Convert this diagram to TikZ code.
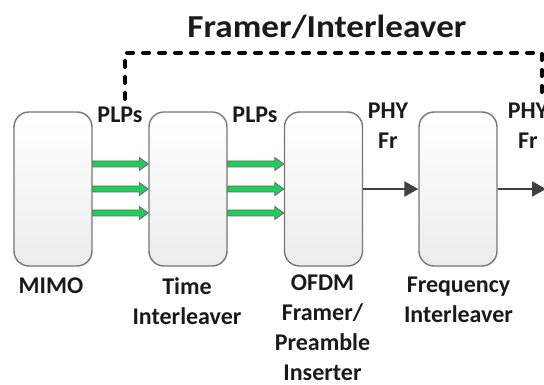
\documentclass[tikz,border=0pt]{standalone}
\usepackage{fontspec}
\setmainfont{Carlito}
\newfontfamily\titlefont{Carlito}[FakeStretch=1.1]
\usetikzlibrary{arrows.meta,calc}
\definecolor{boxline}{RGB}{118,118,118}
\definecolor{boxbot}{RGB}{236,236,236}
\definecolor{gfill}{RGB}{30,205,90}
\definecolor{gline}{RGB}{105,105,105}
\definecolor{darrow}{RGB}{64,64,64}
\definecolor{txt}{RGB}{26,26,26}
\tikzset{
  blockbox/.style={draw=boxline, line width=1.4pt, rounded corners=15pt,
    top color=white, bottom color=boxbot, minimum width=78pt, minimum height=154pt, inner sep=0pt},
  lab/.style={font=\fontsize{24}{30}\selectfont\bfseries, text=txt, align=center, inner sep=0pt},
  ttl/.style={font=\titlefont\fontsize{32}{38}\selectfont\bfseries, text=txt, inner sep=0pt},
  garrow/.style={fill=gfill, draw=gline, line width=0.8pt, line join=miter},
  phyarrow/.style={draw=darrow, line width=2.4pt, -{Triangle[length=14pt,width=15pt]}},
  dashline/.style={line width=4pt, line cap=round, dash pattern=on 6pt off 10pt}
}
\newcommand\greenarrow[2]{%
  \draw[garrow] let \p1=(#1), \p2=(#2) in
    (\x1,\y1-3pt) -- (\x2-9pt,\y1-3pt) -- (\x2-9pt,\y1-6.5pt) -- (\x2,\y1)
    -- (\x2-9pt,\y1+6.5pt) -- (\x2-9pt,\y1+3pt) -- (\x1,\y1+3pt) -- cycle;}
\begin{document}
\begin{tikzpicture}[x=1pt,y=-1pt]
\useasboundingbox (0,0) rectangle (544,385);
% boxes
\node[blockbox] (mimo) at (53,189) {};
\node[blockbox] (time) at (188,189) {};
\node[blockbox] (ofdm) at (323.5,189) {};
\node[blockbox] (freq) at (458,189) {};
% green arrows
\foreach \d [count=\i] in {-25,0,24}{
  \coordinate (a\i) at ($(mimo.east)+(0,\d)$);
  \coordinate (b\i) at ($(time.west)+(0,\d)$);
  \coordinate (c\i) at ($(time.east)+(0,\d)$);
  \coordinate (d\i) at ($(ofdm.west)+(0,\d)$);
  \greenarrow{a\i}{b\i}
  \greenarrow{c\i}{d\i}
}
% dark arrows
\coordinate (out) at (546,189);
\draw[phyarrow] (ofdm.east) -- (freq.west);
\draw[phyarrow] (freq.east) -- (out);
% dashed bracket
\coordinate (dl) at (125,99);
\coordinate (dlc) at (125,53);
\coordinate (drc) at (542,53);
\coordinate (dr) at (542,99);
\draw[dashline] (dl) -- (dlc) -- (drc) -- (dr);
% title
\node[ttl, anchor=base] (title) at (327,37.5) {Framer/Interleaver};
% top labels
\node[lab, anchor=base] (plp1) at (120,123) {PLPs};
\node[lab, anchor=base] (plp2) at (255,123) {PLPs};
\node[lab, anchor=north] (phy1) at (388,102.5) {PHY\\Fr};
\node[lab, anchor=north] (phy2) at (528,102.5) {PHY\\Fr};
% bottom labels
\node[lab, anchor=north] (lmimo) at (51,277.5) {MIMO};
\node[lab, anchor=north] (ltime) at (187,277.5) {Time\\Interleaver};
\node[lab, anchor=north] (lofdm) at (322.5,274.5) {OFDM\\Framer/\\Preamble\\Inserter};
\node[lab, anchor=north] (lfreq) at (458.5,276.5) {Frequency\\Interleaver};
\end{tikzpicture}
\end{document}
